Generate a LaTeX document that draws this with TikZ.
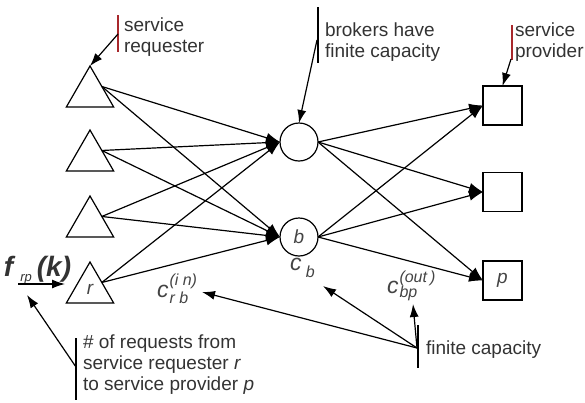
\documentclass[tikz,border=0pt]{standalone}
\usepackage{fontspec}
\setmainfont{Liberation Sans}
\usetikzlibrary{arrows.meta,shapes.geometric}
\definecolor{txt}{HTML}{333333}
\definecolor{sym}{HTML}{444444}
\definecolor{barred}{HTML}{A8282C}
\newcommand{\capscript}[4]{#1\makebox[0pt][l]{\raisebox{#3}{\fontsize{16}{16}\selectfont #2}}\raisebox{#4}{\fontsize{16}{16}\selectfont #2}}
\newcommand{\capsub}[5]{#1\makebox[0pt][l]{\raisebox{#4}{\fontsize{16}{16}\selectfont #2}}\raisebox{#5}{\fontsize{16}{16}\selectfont #3}}
\begin{document}
\begin{tikzpicture}[x=1pt,y=-1pt,
  every node/.style={inner sep=0pt, outer sep=0pt},
  req/.style={regular polygon, regular polygon sides=3, draw, line width=1.2pt, minimum size=54.6pt},
  brk/.style={circle, draw, line width=1.2pt, minimum size=38pt},
  prv/.style={rectangle, draw, line width=1.2pt, minimum size=39pt},
  flow/.style={line width=1.2pt, -{Latex[length=14pt,width=10pt]}},
  pointer/.style={line width=1.2pt, -{Latex[length=13pt,width=9pt]}},
  lbl/.style={font=\fontsize{19}{21}\selectfont, text=txt, align=left, anchor=base west},
  inner/.style={font=\fontsize{19}{19}\selectfont\itshape, text=sym},
  clabel/.style={font=\fontsize{23}{23}\selectfont\itshape, text=sym, anchor=base west},
  bar/.style={line width=1.2pt},
]
\useasboundingbox (0,0) rectangle (585,402);

% requesters
\node[req] (t1) at (90,93.3) {};
\node[req] (t2) at (90,157.3) {};
\node[req] (t3) at (90,223.3) {};
\node[req] (t4) at (90,289.3) {};
\node[inner] at (t4.center) {r};

% brokers
\node[brk] (c1) at (299,142) {};
\node[brk, inner] (c2) at (299,237) {b};

% providers
\node[prv] (s1) at (502.5,105.5) {};
\node[prv] (s2) at (502.5,192) {};
\node[prv, inner] (s3) at (502.5,280.5) {p};

% flows
\foreach \t in {t1,t2,t3,t4} {
  \draw[flow] (\t.side 3) -- (c1.west);
  \draw[flow] (\t.side 3) -- (c2.west);
}
\foreach \c in {c1,c2} {
  \foreach \s in {s1,s2,s3} {
    \draw[flow] (\c.east) -- (\s.west);
  }
}

% label: service requester
\draw[bar, barred] (118,15) -- (118,52);
\node[lbl] (lsr) at (124,52) {service\\requester};
\coordinate (psr) at (118,34);
\draw[pointer] (psr) -- (t1.corner 1);

% label: brokers
\draw[bar] (318,7) -- (318,63);
\node[lbl] (lbr) at (325,57.5) {brokers have\\finite capacity};
\coordinate (pbr) at (317,40);
\draw[pointer] (pbr) -- (c1.north);

% label: service provider
\draw[bar, barred] (512,25) -- (512,60);
\node[lbl] (lsp) at (515,57) {service\\provider};
\coordinate (psp) at (511,59);
\draw[pointer] (psp) -- (s1.north);

% f_rp(k)
\node[anchor=base west, text=txt] (fk) at (4,276)
  {\fontsize{28}{28}\selectfont\bfseries\itshape f\hspace{7pt}\raisebox{-5pt}{\fontsize{13}{13}\selectfont\mdseries rp}\hspace{5pt}(k)};
\coordinate (fkA) at (18,284);
\coordinate (fkB) at (65,284);
\draw[pointer] (fkA) -- (fkB);

% capacities
\node[clabel] (cb) at (290,270) {c\raisebox{-7pt}{\fontsize{16}{16}\selectfont\ b}};
\node[clabel] (cin) at (157,297) {\capsub{c\hspace{1pt}}{(i n)}{r b}{12pt}{-6.5pt}};
\node[clabel] (cout) at (387,293) {\capsub{c\hspace{1pt}}{(out\hspace{3pt})}{bp}{11pt}{-4pt}};

% finite capacity
\draw[bar] (418,325) -- (418,368);
\node[lbl] (lfc) at (426,354) {finite capacity};
\coordinate (pfc) at (417,348);
\coordinate (tcb) at (323,286);
\coordinate (tcin) at (202,292);
\coordinate (tcout) at (413,304);
\draw[pointer] (pfc) -- (tcb);
\draw[pointer] (pfc) -- (tcin);
\draw[pointer] (pfc) -- (tcout);

% # of requests
\draw[bar] (76,338) -- (76,400);
\node[lbl] (lnr) at (83,390) {\# of requests from\\service requester \textit{r}\\to service provider \textit{p}};
\coordinate (pnr) at (76,367);
\coordinate (tnr) at (27,295);
\draw[pointer] (pnr) -- (tnr);
\end{tikzpicture}
\end{document}
